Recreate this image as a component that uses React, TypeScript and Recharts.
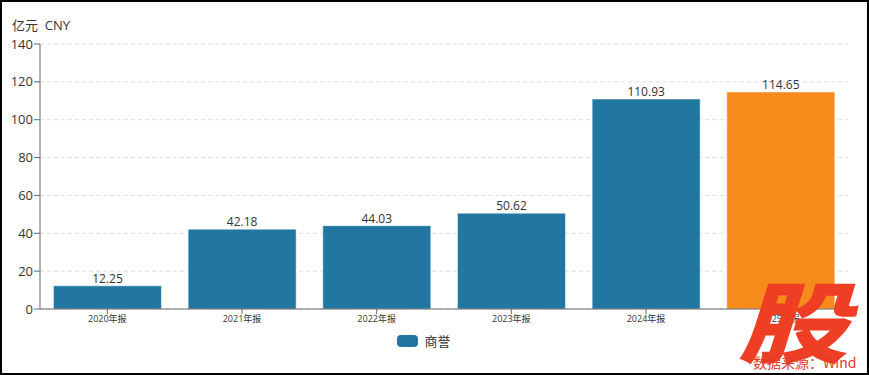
import React from 'react';
import { BarChart, Bar, XAxis, YAxis, CartesianGrid, Legend, LabelList, Cell } from 'recharts';

const periods = ['2020年报', '2021年报', '2022年报', '2023年报', '2024年报', '2025中报'];
const goodwill = [12.25, 42.18, 44.03, 50.62, 110.93, 114.65];
const yTicks = [0, 20, 40, 60, 80, 100, 120, 140];

const data = periods.map((p, i) => ({ period: p, value: goodwill[i] }));

const FONT = '"Open Sans", "Noto Sans CJK SC", sans-serif';
const BLUE = '#2277a2';
const ORANGE = '#f68a1a';

function LegendBox() {
  return (
    <div style={{ display: 'flex', alignItems: 'center', justifyContent: 'center', fontFamily: FONT, fontSize: 13, color: '#333' }}>
      <span style={{ display: 'inline-block', width: 21, height: 12, borderRadius: 4, background: BLUE, marginRight: 6 }} />
      <span>商誉</span>
    </div>
  );
}

export default function App() {
  return (
    <div
      style={{
        position: 'fixed',
        left: 0,
        top: 0,
        width: 869,
        height: 375,
        border: '2px solid #000',
        boxSizing: 'border-box',
        background: '#fff',
        overflow: 'hidden',
        fontFamily: FONT,
      }}
    >
      <div style={{ position: 'absolute', left: 10, top: 13, fontSize: 13, color: '#333' }}>亿元&nbsp;&nbsp;CNY</div>
      <div style={{ position: 'absolute', left: -2, top: -2 }}>
        <BarChart width={869} height={375} data={data} margin={{ top: 44, right: 21, left: 0, bottom: 0 }} barCategoryGap="10%">
          <CartesianGrid horizontal vertical={false} stroke="#ddd" strokeDasharray="4 3" />
          <XAxis
            dataKey="period"
            tick={{ fontSize: 9, fill: '#333', fontFamily: FONT }}
            tickLine={{ stroke: '#666' }}
            axisLine={{ stroke: '#666' }}
            tickSize={5}
            interval={0}
            height={26}
          />
          <YAxis
            ticks={yTicks}
            domain={[0, 140]}
            width={40}
            tick={{ fontSize: 13, fill: '#333', fontFamily: FONT }}
            tickLine={{ stroke: '#666' }}
            axisLine={{ stroke: '#666' }}
            tickSize={6}
            tickMargin={1}
          />
          <Legend verticalAlign="bottom" height={40} content={() => <LegendBox />} wrapperStyle={{ top: 331, bottom: 'auto' }} />
          <Bar dataKey="value" isAnimationActive={false} stroke="#fff" strokeWidth={0.5}>
            {data.map((_, i) => (
              <Cell key={i} fill={i === data.length - 1 ? ORANGE : BLUE} />
            ))}
            <LabelList dataKey="value" position="top" offset={3} style={{ fontSize: 12, fill: '#333', fontFamily: FONT }} formatter={(v: number) => v.toFixed(2)} />
          </Bar>
        </BarChart>
      </div>
      <div
        style={{
          position: 'absolute',
          left: 736,
          top: 272,
          fontSize: 88,
          fontWeight: 900,
          fontStyle: 'italic',
          color: '#ee3f24',
          fontFamily: '"Noto Sans CJK SC", sans-serif',
          lineHeight: 1,
          transform: 'scaleX(1.25)',
          transformOrigin: 'left top',
        }}
      >
        股
      </div>
      <div style={{ position: 'absolute', left: 751, top: 350, fontSize: 14, color: '#e23b2a', fontFamily: '"Noto Sans CJK SC", sans-serif' }}>
        数据来源：Wind
      </div>
    </div>
  );
}
